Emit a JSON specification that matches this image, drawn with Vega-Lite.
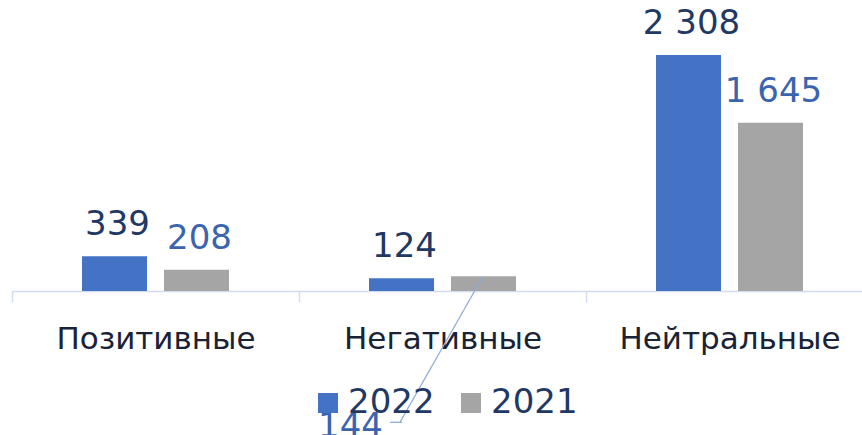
{
  "$schema": "https://vega.github.io/schema/vega-lite/v6.json",
  "width": 861,
  "height": 291,
  "autosize": "none",
  "padding": {"left": 12, "top": 0, "right": 0, "bottom": 144},
  "background": "white",
  "config": {
    "view": {"stroke": null},
    "font": "DejaVu Sans",
    "locale": {"number": {"decimal": ",", "thousands": " ", "grouping": [3], "currency": ["", ""]}}
  },
  "data": {
    "values": [
      {"cat": "Позитивные", "year": "2022", "value": 339},
      {"cat": "Позитивные", "year": "2021", "value": 208},
      {"cat": "Негативные", "year": "2022", "value": 124},
      {"cat": "Негативные", "year": "2021", "value": 144},
      {"cat": "Нейтральные", "year": "2022", "value": 2308},
      {"cat": "Нейтральные", "year": "2021", "value": 1645}
    ]
  },
  "encoding": {
    "x": {
      "field": "cat",
      "type": "nominal",
      "sort": ["Позитивные", "Негативные", "Нейтральные"],
      "scale": {"paddingInner": 0, "paddingOuter": 0},
      "axis": {
        "title": null,
        "labelAngle": 0,
        "labelLimit": 0,
        "tickBand": "extent",
        "domainColor": "#D3DCEF",
        "domainWidth": 1.5,
        "tickColor": "#D3DCEF",
        "tickWidth": 1.5,
        "tickSize": 11,
        "labelFontSize": 31,
        "labelColor": "#1A2236",
        "labelBaseline": "alphabetic",
        "labelPadding": 46,
        "grid": false
      }
    },
    "y": {
      "field": "value",
      "type": "quantitative",
      "scale": {"domain": [0, 2846], "nice": false, "zero": true},
      "axis": null
    }
  },
  "layer": [
    {
      "mark": {"type": "bar"},
      "encoding": {
        "xOffset": {
          "field": "year",
          "sort": ["2022", "2021"],
          "scale": {"paddingInner": 0.207, "paddingOuter": 0.854}
        },
        "color": {
          "field": "year",
          "type": "nominal",
          "scale": {"domain": ["2022", "2021"], "range": ["#4472C4", "#A5A5A5"]},
          "legend": {
            "title": null,
            "orient": "none",
            "direction": "horizontal",
            "legendX": 299,
            "legendY": 386,
            "symbolType": "square",
            "symbolSize": 400,
            "symbolStrokeWidth": 0,
            "labelFontSize": 34,
            "labelColor": "#1F3864",
            "labelOffset": 3,
            "columnPadding": 19,
            "padding": 0
          }
        }
      }
    },
    {
      "transform": [{"filter": "datum.cat != 'Негативные' || datum.year != '2021'"}],
      "mark": {"type": "text", "baseline": "alphabetic", "align": "center", "dy": -21, "dx": 3, "fontSize": 34},
      "encoding": {
        "xOffset": {
          "field": "year",
          "sort": ["2022", "2021"],
          "scale": {"paddingInner": 0.207, "paddingOuter": 0.854}
        },
        "text": {"field": "value", "type": "quantitative", "format": ",d"},
        "color": {"condition": {"test": "datum.year == '2022'", "value": "#1F3864"}, "value": "#3B64AE"}
      }
    },
    {
      "transform": [{"filter": "datum.cat == 'Негативные' && datum.year == '2021'"}],
      "mark": {"type": "text", "baseline": "alphabetic", "align": "center", "dy": 161, "dx": -133, "fontSize": 34, "color": "#3B64AE"},
      "encoding": {
        "xOffset": {
          "field": "year",
          "sort": ["2022", "2021"],
          "scale": {"paddingInner": 0.207, "paddingOuter": 0.854}
        },
        "text": {"field": "value", "type": "quantitative", "format": ",d"}
      }
    },
    {
      "transform": [{"filter": "datum.cat == 'Негативные' && datum.year == '2021'"}],
      "mark": {"type": "rule", "color": "#8FAADC", "strokeWidth": 1.3, "xOffset": 40.5, "x2Offset": -42.5, "y2Offset": 146},
      "encoding": {
        "x2": {"field": "cat"},
        "y2": {"field": "value"}
      }
    },
    {
      "transform": [{"filter": "datum.cat == 'Негативные' && datum.year == '2021'"}],
      "mark": {"type": "rule", "color": "#8FAADC", "strokeWidth": 1.3, "xOffset": -40.5, "x2Offset": -52.5, "yOffset": 146, "y2Offset": 146},
      "encoding": {
        "x2": {"field": "cat"},
        "y2": {"field": "value"}
      }
    }
  ]
}
